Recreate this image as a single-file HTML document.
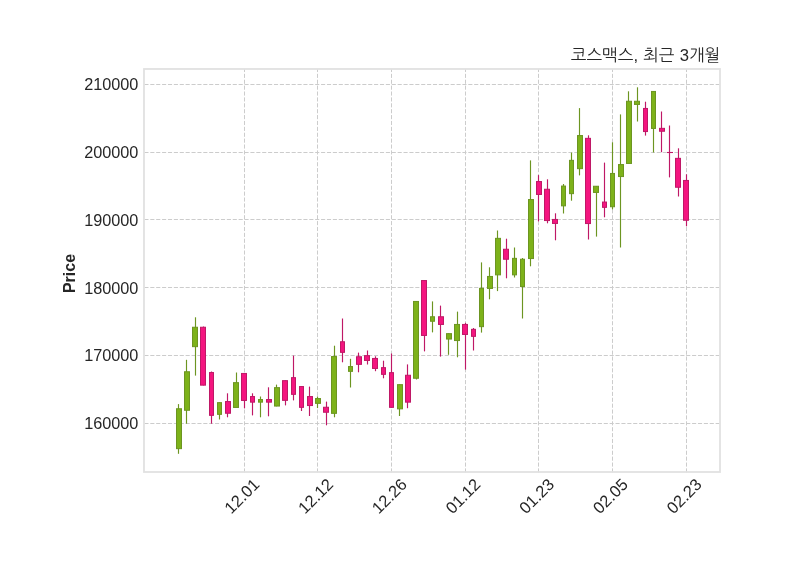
<!DOCTYPE html>
<html lang="ko"><head><meta charset="utf-8"><title>코스맥스, 최근 3개월</title>
<style>
html,body{margin:0;padding:0;background:#fff;}
body{width:800px;height:575px;overflow:hidden;}
svg{display:block;}
.tk{font-family:"Liberation Sans",sans-serif;font-size:16.25px;fill:#262626;}
.xk{font-family:"Liberation Sans",sans-serif;font-size:16.5px;fill:#262626;}
.yl{font-family:"Liberation Sans",sans-serif;font-size:16px;font-weight:bold;fill:#262626;}
.tt{font-family:"Liberation Sans","NanumGothic","Noto Sans CJK KR",sans-serif;font-size:16.65px;word-spacing:0.55px;fill:#262626;}
</style></head><body>
<svg width="800" height="575" viewBox="0 0 800 575">
<rect width="800" height="575" fill="#ffffff"/>

<g stroke="#cccccc" stroke-width="1.0" stroke-dasharray="4.111 1.778" fill="none">
<path d="M144.4 84.5H720.0"/>
<path d="M144.4 152.5H720.0"/>
<path d="M144.4 219.5H720.0"/>
<path d="M144.4 287.5H720.0"/>
<path d="M144.4 355.5H720.0"/>
<path d="M144.4 423.5H720.0"/>
<path d="M244.50 472.5V69.0"/>
<path d="M317.50 472.5V69.0"/>
<path d="M391.50 472.5V69.0"/>
<path d="M465.50 472.5V69.0"/>
<path d="M538.50 472.5V69.0"/>
<path d="M612.50 472.5V69.0"/>
<path d="M686.50 472.5V69.0"/>
</g>
<g>
<path d="M178.5 404.1V453.8" stroke="#6c9521" stroke-width="1.15"/><rect x="176.5" y="408.75" width="5.0" height="39.90" fill="#7db21a" stroke="#6c9521" stroke-width="1"/>
<path d="M186.5 359.8V423.7" stroke="#6c9521" stroke-width="1.15"/><rect x="184.5" y="371.75" width="5.0" height="38.50" fill="#7db21a" stroke="#6c9521" stroke-width="1"/>
<path d="M195.5 317.3V375.6" stroke="#6c9521" stroke-width="1.15"/><rect x="192.5" y="327.25" width="5.0" height="19.40" fill="#7db21a" stroke="#6c9521" stroke-width="1"/>
<path d="M203.5 326.5V385.4" stroke="#bf1866" stroke-width="1.15"/><rect x="200.5" y="327.25" width="5.0" height="57.90" fill="#f4157f" stroke="#bf1866" stroke-width="1"/>
<path d="M211.5 371.5V423.7" stroke="#bf1866" stroke-width="1.15"/><rect x="209.5" y="372.55" width="4.0" height="42.80" fill="#f4157f" stroke="#bf1866" stroke-width="1"/>
<path d="M219.5 402.4V419.5" stroke="#6c9521" stroke-width="1.15"/><rect x="217.5" y="402.65" width="4.0" height="11.70" fill="#7db21a" stroke="#6c9521" stroke-width="1"/>
<path d="M227.5 393.3V417.3" stroke="#bf1866" stroke-width="1.15"/><rect x="225.5" y="401.55" width="5.0" height="11.70" fill="#f4157f" stroke="#bf1866" stroke-width="1"/>
<path d="M236.5 372.5V407.1" stroke="#6c9521" stroke-width="1.15"/><rect x="233.5" y="382.65" width="5.0" height="24.80" fill="#7db21a" stroke="#6c9521" stroke-width="1"/>
<path d="M244.5 373.2V408.4" stroke="#bf1866" stroke-width="1.15"/><rect x="241.5" y="373.45" width="5.0" height="27.00" fill="#f4157f" stroke="#bf1866" stroke-width="1"/>
<path d="M252.5 393.3V415.4" stroke="#bf1866" stroke-width="1.15"/><rect x="250.5" y="396.55" width="4.0" height="5.60" fill="#f4157f" stroke="#bf1866" stroke-width="1"/>
<path d="M260.5 396.5V417.3" stroke="#6c9521" stroke-width="1.15"/><rect x="258.5" y="399.55" width="4.0" height="2.60" fill="#7db21a" stroke="#6c9521" stroke-width="1"/>
<path d="M268.5 387.3V416.3" stroke="#bf1866" stroke-width="1.15"/><rect x="266.5" y="399.55" width="5.0" height="2.60" fill="#f4157f" stroke="#bf1866" stroke-width="1"/>
<path d="M276.5 384.6V406.3" stroke="#6c9521" stroke-width="1.15"/><rect x="274.5" y="387.65" width="5.0" height="18.40" fill="#7db21a" stroke="#6c9521" stroke-width="1"/>
<path d="M285.5 380.4V405.4" stroke="#bf1866" stroke-width="1.15"/><rect x="282.5" y="380.65" width="5.0" height="19.70" fill="#f4157f" stroke="#bf1866" stroke-width="1"/>
<path d="M293.5 355.6V400.4" stroke="#bf1866" stroke-width="1.15"/><rect x="291.5" y="377.65" width="4.0" height="16.70" fill="#f4157f" stroke="#bf1866" stroke-width="1"/>
<path d="M301.5 386.3V411.0" stroke="#bf1866" stroke-width="1.15"/><rect x="299.5" y="386.55" width="4.0" height="20.80" fill="#f4157f" stroke="#bf1866" stroke-width="1"/>
<path d="M309.5 386.6V416.0" stroke="#bf1866" stroke-width="1.15"/><rect x="307.5" y="396.55" width="5.0" height="9.00" fill="#f4157f" stroke="#bf1866" stroke-width="1"/>
<path d="M317.5 396.5V408.1" stroke="#6c9521" stroke-width="1.15"/><rect x="315.5" y="398.55" width="5.0" height="4.80" fill="#7db21a" stroke="#6c9521" stroke-width="1"/>
<path d="M326.5 401.6V425.3" stroke="#bf1866" stroke-width="1.15"/><rect x="323.5" y="407.25" width="5.0" height="5.00" fill="#f4157f" stroke="#bf1866" stroke-width="1"/>
<path d="M334.5 345.7V417.3" stroke="#6c9521" stroke-width="1.15"/><rect x="331.5" y="356.55" width="5.0" height="56.80" fill="#7db21a" stroke="#6c9521" stroke-width="1"/>
<path d="M342.5 318.5V362.3" stroke="#bf1866" stroke-width="1.15"/><rect x="340.5" y="341.75" width="4.0" height="10.60" fill="#f4157f" stroke="#bf1866" stroke-width="1"/>
<path d="M350.5 358.8V387.5" stroke="#6c9521" stroke-width="1.15"/><rect x="348.5" y="366.55" width="4.0" height="4.80" fill="#7db21a" stroke="#6c9521" stroke-width="1"/>
<path d="M358.5 352.6V372.3" stroke="#bf1866" stroke-width="1.15"/><rect x="356.5" y="356.75" width="5.0" height="7.60" fill="#f4157f" stroke="#bf1866" stroke-width="1"/>
<path d="M367.5 350.5V364.5" stroke="#bf1866" stroke-width="1.15"/><rect x="364.5" y="355.65" width="5.0" height="4.80" fill="#f4157f" stroke="#bf1866" stroke-width="1"/>
<path d="M375.5 356.3V371.2" stroke="#bf1866" stroke-width="1.15"/><rect x="372.5" y="358.45" width="5.0" height="10.00" fill="#f4157f" stroke="#bf1866" stroke-width="1"/>
<path d="M383.5 360.7V378.3" stroke="#bf1866" stroke-width="1.15"/><rect x="381.5" y="367.65" width="4.0" height="6.70" fill="#f4157f" stroke="#bf1866" stroke-width="1"/>
<path d="M391.5 353.5V407.6" stroke="#bf1866" stroke-width="1.15"/><rect x="389.5" y="372.65" width="4.0" height="34.70" fill="#f4157f" stroke="#bf1866" stroke-width="1"/>
<path d="M399.5 384.4V416.0" stroke="#6c9521" stroke-width="1.15"/><rect x="397.5" y="384.65" width="5.0" height="24.20" fill="#7db21a" stroke="#6c9521" stroke-width="1"/>
<path d="M407.5 364.4V408.2" stroke="#bf1866" stroke-width="1.15"/><rect x="405.5" y="375.25" width="5.0" height="26.90" fill="#f4157f" stroke="#bf1866" stroke-width="1"/>
<path d="M416.5 301.2V379.5" stroke="#6c9521" stroke-width="1.15"/><rect x="413.5" y="301.45" width="5.0" height="76.80" fill="#7db21a" stroke="#6c9521" stroke-width="1"/>
<path d="M424.5 280.3V351.4" stroke="#bf1866" stroke-width="1.15"/><rect x="421.5" y="280.55" width="5.0" height="54.90" fill="#f4157f" stroke="#bf1866" stroke-width="1"/>
<path d="M432.5 301.4V332.4" stroke="#6c9521" stroke-width="1.15"/><rect x="430.5" y="316.75" width="4.0" height="4.50" fill="#7db21a" stroke="#6c9521" stroke-width="1"/>
<path d="M440.5 305.6V356.6" stroke="#bf1866" stroke-width="1.15"/><rect x="438.5" y="316.75" width="5.0" height="7.70" fill="#f4157f" stroke="#bf1866" stroke-width="1"/>
<path d="M448.5 333.4V354.8" stroke="#6c9521" stroke-width="1.15"/><rect x="446.5" y="333.65" width="5.0" height="5.40" fill="#7db21a" stroke="#6c9521" stroke-width="1"/>
<path d="M457.5 311.6V357.3" stroke="#6c9521" stroke-width="1.15"/><rect x="454.5" y="324.45" width="5.0" height="16.10" fill="#7db21a" stroke="#6c9521" stroke-width="1"/>
<path d="M465.5 322.8V369.6" stroke="#bf1866" stroke-width="1.15"/><rect x="462.5" y="324.45" width="5.0" height="10.00" fill="#f4157f" stroke="#bf1866" stroke-width="1"/>
<path d="M473.5 328.0V350.5" stroke="#bf1866" stroke-width="1.15"/><rect x="471.5" y="329.35" width="4.0" height="7.00" fill="#f4157f" stroke="#bf1866" stroke-width="1"/>
<path d="M481.5 262.4V332.6" stroke="#6c9521" stroke-width="1.15"/><rect x="479.5" y="288.35" width="4.0" height="38.30" fill="#7db21a" stroke="#6c9521" stroke-width="1"/>
<path d="M489.5 267.3V299.3" stroke="#6c9521" stroke-width="1.15"/><rect x="487.5" y="276.45" width="5.0" height="12.00" fill="#7db21a" stroke="#6c9521" stroke-width="1"/>
<path d="M497.5 230.5V291.1" stroke="#6c9521" stroke-width="1.15"/><rect x="495.5" y="238.35" width="5.0" height="36.50" fill="#7db21a" stroke="#6c9521" stroke-width="1"/>
<path d="M506.5 238.7V278.3" stroke="#bf1866" stroke-width="1.15"/><rect x="503.5" y="249.25" width="5.0" height="10.00" fill="#f4157f" stroke="#bf1866" stroke-width="1"/>
<path d="M514.5 247.5V277.5" stroke="#6c9521" stroke-width="1.15"/><rect x="512.5" y="258.35" width="4.0" height="16.50" fill="#7db21a" stroke="#6c9521" stroke-width="1"/>
<path d="M522.5 258.0V318.5" stroke="#6c9521" stroke-width="1.15"/><rect x="520.5" y="259.25" width="4.0" height="27.30" fill="#7db21a" stroke="#6c9521" stroke-width="1"/>
<path d="M530.5 160.4V266.3" stroke="#6c9521" stroke-width="1.15"/><rect x="528.5" y="199.55" width="5.0" height="59.00" fill="#7db21a" stroke="#6c9521" stroke-width="1"/>
<path d="M538.5 175.1V221.4" stroke="#bf1866" stroke-width="1.15"/><rect x="536.5" y="181.55" width="5.0" height="12.90" fill="#f4157f" stroke="#bf1866" stroke-width="1"/>
<path d="M547.5 179.3V223.3" stroke="#bf1866" stroke-width="1.15"/><rect x="544.5" y="189.25" width="5.0" height="31.30" fill="#f4157f" stroke="#bf1866" stroke-width="1"/>
<path d="M555.5 213.3V240.3" stroke="#bf1866" stroke-width="1.15"/><rect x="552.5" y="219.45" width="5.0" height="4.00" fill="#f4157f" stroke="#bf1866" stroke-width="1"/>
<path d="M563.5 184.0V213.5" stroke="#6c9521" stroke-width="1.15"/><rect x="561.5" y="186.05" width="4.0" height="19.80" fill="#7db21a" stroke="#6c9521" stroke-width="1"/>
<path d="M571.5 152.6V200.7" stroke="#6c9521" stroke-width="1.15"/><rect x="569.5" y="160.35" width="4.0" height="33.30" fill="#7db21a" stroke="#6c9521" stroke-width="1"/>
<path d="M579.5 108.1V175.4" stroke="#6c9521" stroke-width="1.15"/><rect x="577.5" y="135.55" width="5.0" height="33.10" fill="#7db21a" stroke="#6c9521" stroke-width="1"/>
<path d="M588.5 135.3V239.5" stroke="#bf1866" stroke-width="1.15"/><rect x="585.5" y="138.35" width="5.0" height="85.20" fill="#f4157f" stroke="#bf1866" stroke-width="1"/>
<path d="M596.5 186.0V236.6" stroke="#6c9521" stroke-width="1.15"/><rect x="593.5" y="186.25" width="5.0" height="6.20" fill="#7db21a" stroke="#6c9521" stroke-width="1"/>
<path d="M604.5 162.6V217.3" stroke="#bf1866" stroke-width="1.15"/><rect x="602.5" y="202.05" width="4.0" height="5.30" fill="#f4157f" stroke="#bf1866" stroke-width="1"/>
<path d="M612.5 142.3V209.4" stroke="#6c9521" stroke-width="1.15"/><rect x="610.5" y="173.45" width="4.0" height="33.30" fill="#7db21a" stroke="#6c9521" stroke-width="1"/>
<path d="M620.5 114.4V247.5" stroke="#6c9521" stroke-width="1.15"/><rect x="618.5" y="164.55" width="5.0" height="12.00" fill="#7db21a" stroke="#6c9521" stroke-width="1"/>
<path d="M628.5 91.3V163.4" stroke="#6c9521" stroke-width="1.15"/><rect x="626.5" y="101.25" width="5.0" height="62.20" fill="#7db21a" stroke="#6c9521" stroke-width="1"/>
<path d="M637.5 87.3V121.5" stroke="#6c9521" stroke-width="1.15"/><rect x="634.5" y="101.25" width="5.0" height="3.20" fill="#7db21a" stroke="#6c9521" stroke-width="1"/>
<path d="M645.5 101.7V135.6" stroke="#bf1866" stroke-width="1.15"/><rect x="643.5" y="108.45" width="4.0" height="23.10" fill="#f4157f" stroke="#bf1866" stroke-width="1"/>
<path d="M653.5 91.2V152.5" stroke="#6c9521" stroke-width="1.15"/><rect x="651.5" y="91.45" width="4.0" height="37.00" fill="#7db21a" stroke="#6c9521" stroke-width="1"/>
<path d="M661.5 111.5V152.2" stroke="#bf1866" stroke-width="1.15"/><rect x="659.5" y="128.35" width="5.0" height="2.90" fill="#f4157f" stroke="#bf1866" stroke-width="1"/>
<path d="M669.5 125.5V177.4" stroke="#bf1866" stroke-width="1.15"/><rect x="667.5" y="152.45" width="5.0" height="0.10" fill="#f4157f" stroke="#bf1866" stroke-width="1"/>
<path d="M678.5 148.3V196.5" stroke="#bf1866" stroke-width="1.15"/><rect x="675.5" y="158.35" width="5.0" height="28.90" fill="#f4157f" stroke="#bf1866" stroke-width="1"/>
<path d="M686.5 174.3V226.3" stroke="#bf1866" stroke-width="1.15"/><rect x="683.5" y="180.45" width="5.0" height="39.80" fill="#f4157f" stroke="#bf1866" stroke-width="1"/>
</g>
<rect x="144.0" y="69.0" width="576.0" height="403.0" fill="none" stroke="#e1e1e1" stroke-width="1.8"/>
<text class="tk" x="138.4" y="90.30" text-anchor="end">210000</text>
<text class="tk" x="138.4" y="158.10" text-anchor="end">200000</text>
<text class="tk" x="138.4" y="225.85" text-anchor="end">190000</text>
<text class="tk" x="138.4" y="293.60" text-anchor="end">180000</text>
<text class="tk" x="138.4" y="361.40" text-anchor="end">170000</text>
<text class="tk" x="138.4" y="429.20" text-anchor="end">160000</text>
<text class="xk" transform="translate(252.20 477.1) rotate(-45)" text-anchor="end" x="0" y="11.8">12.01</text>
<text class="xk" transform="translate(325.88 477.1) rotate(-45)" text-anchor="end" x="0" y="11.8">12.12</text>
<text class="xk" transform="translate(399.56 477.1) rotate(-45)" text-anchor="end" x="0" y="11.8">12.26</text>
<text class="xk" transform="translate(473.24 477.1) rotate(-45)" text-anchor="end" x="0" y="11.8">01.12</text>
<text class="xk" transform="translate(546.93 477.1) rotate(-45)" text-anchor="end" x="0" y="11.8">01.23</text>
<text class="xk" transform="translate(620.61 477.1) rotate(-45)" text-anchor="end" x="0" y="11.8">02.05</text>
<text class="xk" transform="translate(694.29 477.1) rotate(-45)" text-anchor="end" x="0" y="11.8">02.23</text>
<text class="yl" transform="translate(74.5 273.5) rotate(-90)" text-anchor="middle">Price</text>
<text class="tt" x="720.2" y="61.3" text-anchor="end">코스맥스, 최근 3개월</text>
</svg></body></html>
